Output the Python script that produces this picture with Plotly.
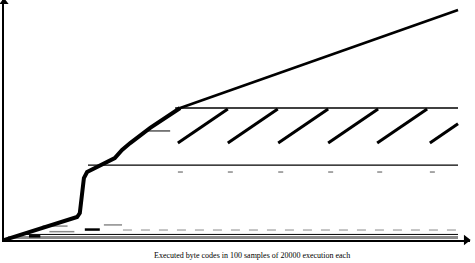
import plotly.graph_objects as go

# Main cumulative curve (steep lower part and thinner upper part)
curve_low_x = [0.0, 16.1, 16.7, 17.2, 17.6, 18.3, 21.1, 24.4, 26.0, 27.8, 32.2, 38.8]
curve_low_y = [0.0, 9.9, 11.6, 19.4, 26.7, 29.3, 31.9, 35.3, 38.8, 41.8, 48.3, 56.9]
curve_high_x = [38.8, 100.0]
curve_high_y = [56.9, 99.1]

# Sawtooth segments (None separates teeth)
saw_x = [38.3, 49.3, None, 49.3, 60.3, None, 60.4, 71.4, None,
         71.4, 82.4, None, 82.2, 93.2, None, 93.8, 100.0]
saw_y = [41.8, 56.5, None, 41.8, 56.5, None, 41.8, 56.5, None,
         41.8, 56.5, None, 41.8, 56.5, None, 41.8, 50.1]

# Horizontal levels
upper_level_x = [37.7, 100.0]
upper_level_y = [56.9, 56.9]
mid_level_x = [18.5, 100.0]
mid_level_y = [32.3, 32.3]
short_level_x = [31.7, 36.6]
short_level_y = [47.0, 47.0]

# Small tick stubs under teeth
stub_x = [38.3, 39.4, None, 49.3, 50.4, None, 60.4, 61.5, None,
          71.4, 72.5, None, 82.2, 83.3, None, 93.8, 94.9]
stub_y = [29.3, 29.3, None, 29.3, 29.3, None, 29.3, 29.3, None,
          29.3, 29.3, None, 29.3, 29.3, None, 29.3, 29.3]

# Low-level fragments near the origin
frag_gray_x = [8.5, 14.0, None, 10.0, 15.5, None, 22.0, 26.0]
frag_gray_y = [6.0, 6.0, None, 3.6, 3.6, None, 6.5, 6.5]
frag_black_x = [17.8, 21.1, None, 5.5, 8.0]
frag_black_y = [4.5, 4.5, None, 1.6, 1.6]

# Bottom baselines
dash_base_x = [26.2, 100.0]
dash_base_y = [4.3, 4.3]
thin_base_x = [4.0, 100.0]
thin_base_y = [2.4, 2.4]
gray_base_x = [0.9, 100.0]
gray_base_y = [1.1, 1.1]

caption = "Executed byte codes in 100 samples of 20000 execution each"

X_MAX = 102.64
Y_MAX = 103.45

fig = go.Figure()

def line(x, y, color, width, dash="solid"):
    fig.add_trace(go.Scatter(x=x, y=y, mode="lines", connectgaps=False,
                             line=dict(color=color, width=width, dash=dash),
                             hoverinfo="skip", showlegend=False))

line(gray_base_x, gray_base_y, "#8a8a8a", 3)
line(thin_base_x, thin_base_y, "black", 1)
line(dash_base_x, dash_base_y, "#8a8a8a", 1, "dash")
line(frag_gray_x, frag_gray_y, "#8a8a8a", 1.5)
line(frag_black_x, frag_black_y, "black", 2.5)
line(mid_level_x, mid_level_y, "black", 1.3)
line(upper_level_x, upper_level_y, "black", 1.3)
line(short_level_x, short_level_y, "black", 1)
line(stub_x, stub_y, "#8a8a8a", 1.5)
line(saw_x, saw_y, "black", 3)
line(curve_low_x, curve_low_y, "black", 4)
line(curve_high_x, curve_high_y, "black", 2.6)

# axis arrowheads
fig.add_trace(go.Scatter(x=[101.8], y=[0], mode="markers", cliponaxis=False,
                         marker=dict(symbol="triangle-right", size=9, color="black"),
                         hoverinfo="skip", showlegend=False))
fig.add_trace(go.Scatter(x=[0], y=[102.6], mode="markers", cliponaxis=False,
                         marker=dict(symbol="triangle-up", size=8, color="black"),
                         hoverinfo="skip", showlegend=False))

fig.add_annotation(text=caption, xref="paper", yref="paper", x=0.532, y=-0.0625,
                   xanchor="center", yanchor="middle", showarrow=False,
                   font=dict(family="Liberation Serif", size=8, color="black"))

fig.update_layout(
    width=475, height=263,
    margin=dict(l=4, r=5, t=0, b=23),
    paper_bgcolor="white", plot_bgcolor="white",
    xaxis=dict(range=[0, X_MAX], showgrid=False, zeroline=False, showticklabels=False,
               ticks="", showline=True, linecolor="black", linewidth=2, fixedrange=True),
    yaxis=dict(range=[0, Y_MAX], showgrid=False, zeroline=False, showticklabels=False,
               ticks="", showline=True, linecolor="black", linewidth=2, fixedrange=True),
)

fig.write_html("out.html")
